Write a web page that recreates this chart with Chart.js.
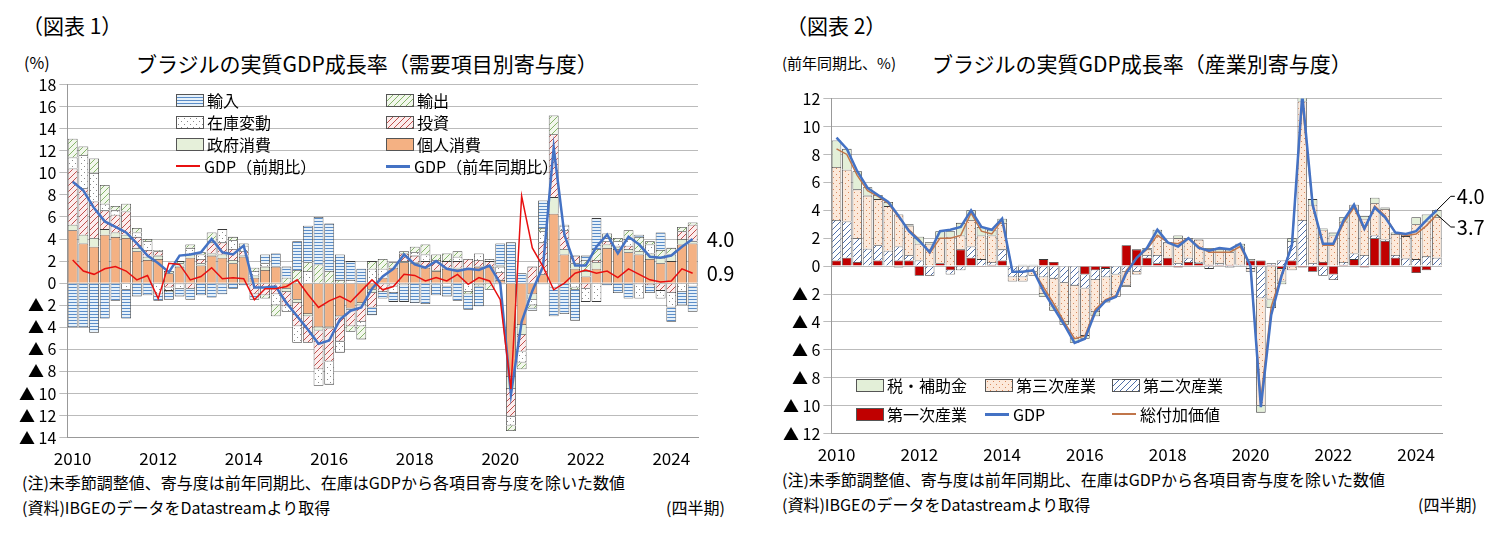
<!DOCTYPE html>
<html><head><meta charset="utf-8">
<script src="https://cdn.jsdelivr.net/npm/chart.js@4.4.1/dist/chart.umd.min.js"></script>
<style>
body{margin:0;width:1502px;height:552px;background:#fff;font-family:"Noto Sans CJK JP","Noto Sans",sans-serif;color:#000;position:relative;overflow:hidden}
.t{position:absolute;white-space:nowrap}
.lg{position:absolute;font-size:16px;white-space:nowrap;display:flex;align-items:center}
.sw{display:inline-block;width:26px;height:11px;border:1px solid #555;margin-right:3px}
.ln{display:inline-block;width:24px;height:0;margin-right:4px}
canvas{position:absolute}
</style></head><body>
<div class="t" style="left:22px;top:10px;font-size:21px">（図表 1）</div>
<div class="t" style="left:24px;top:50px;font-size:16px">(%)</div>
<div class="t" style="left:136px;top:48px;font-size:21px">ブラジルの実質GDP成長率（需要項目別寄与度）</div>
<div class="t" style="left:22px;top:470px;font-size:16px">(注)未季節調整値、寄与度は前年同期比、在庫はGDPから各項目寄与度を除いた数値</div>
<div class="t" style="left:22px;top:495px;font-size:16px">(資料)IBGEのデータをDatastreamより取得</div>
<div class="t" style="left:666px;top:495px;font-size:16px">(四半期)</div>

<div class="t" style="left:786px;top:10px;font-size:21px">（図表 2）</div>
<div class="t" style="left:782px;top:52px;font-size:15px">(前年同期比、%)</div>
<div class="t" style="left:932px;top:48px;font-size:21px">ブラジルの実質GDP成長率（産業別寄与度）</div>
<div class="t" style="left:782px;top:467px;font-size:16px">(注)未季節調整値、寄与度は前年同期比、在庫はGDPから各項目寄与度を除いた数値</div>
<div class="t" style="left:782px;top:492px;font-size:16px">(資料)IBGEのデータをDatastreamより取得</div>
<div class="t" style="left:1418px;top:492px;font-size:16px">(四半期)</div>

<canvas id="c1" style="left:8px;top:72px;width:745px;height:400px" width="745" height="400"></canvas>
<canvas id="c2" style="left:772px;top:86px;width:725px;height:382px" width="725" height="382"></canvas>

<div class="lg" style="left:176px;top:88px"><span class="sw" id="s_imp"></span>輸入</div>
<div class="lg" style="left:386px;top:88px"><span class="sw" id="s_exp"></span>輸出</div>
<div class="lg" style="left:176px;top:110px"><span class="sw" id="s_stk"></span>在庫変動</div>
<div class="lg" style="left:386px;top:110px"><span class="sw" id="s_inv"></span>投資</div>
<div class="lg" style="left:176px;top:132px"><span class="sw" style="background:#E6F0DA"></span>政府消費</div>
<div class="lg" style="left:386px;top:132px"><span class="sw" style="background:#F4B183"></span>個人消費</div>
<div class="lg" style="left:176px;top:154px"><span class="ln" style="border-top:2px solid #E81010"></span>GDP（前期比）</div>
<div class="lg" style="left:386px;top:154px"><span class="ln" style="border-top:3px solid #4472C4"></span>GDP（前年同期比）</div>

<div class="lg" style="left:856px;top:373px"><span class="sw" style="background:#E3EFD8"></span>税・補助金</div>
<div class="lg" style="left:985px;top:373px"><span class="sw" id="s_ter"></span>第三次産業</div>
<div class="lg" style="left:1112px;top:373px"><span class="sw" id="s_sec"></span>第二次産業</div>
<div class="lg" style="left:856px;top:402px"><span class="sw" style="background:#C00000"></span>第一次産業</div>
<div class="lg" style="left:985px;top:402px"><span class="ln" style="border-top:3px solid #4472C4"></span>GDP</div>
<div class="lg" style="left:1112px;top:402px"><span class="ln" style="border-top:2px solid #C0754A"></span>総付加価値</div>

<script>
// 2010Q1 - 2024Q3
const years = [2010,2011,2012,2013,2014,2015,2016,2017,2018,2019,2020,2021,2022,2023,2024];
const quarters = [];
years.forEach(y => [1,2,3,4].forEach(q => { if (!(y === 2024 && q === 4)) quarters.push(y + "Q" + q); }));

// 図表1 需要項目別寄与度
const cons = [4.8,3.6,3.3,4.4, 4.2,4.1,2.9,2.1, 2.2,0.9,1.5,2.3, 1.6,2.5,2.3,1.8, 2.4,0.5,1.2,1.5, -0.5,-1.5,-2.8,-4.0, -4.0,-3.0,-2.3,-1.8, -0.6,0.5,1.4,1.9, 1.8,1.4,1.1,1.3, 1.3,1.4,1.5,1.5, 0.3,-8.5,-3.8,-1.0, 0.8,6.3,2.6,1.3, 0.6,1.3,3.2,3.1, 2.8,2.6,2.2,1.8, 2.0,3.5,3.6];
const gov = [0.5,0.8,0.8,0.5, 0.4,0.3,0.3,0.3, 0.3,0.2,0.3,0.3, 0.2,0.2,0.3,0.3, 0.1,0.2,0.3,-0.1, -0.3,-0.3,-0.2,-0.3, -0.1,-0.1,-0.1,-0.2, -0.3,-0.1,-0.1,0.1, 0.1,0.0,0.1,0.1, 0.1,0.0,-0.2,0.0, -0.1,-1.1,-0.9,-0.5, -0.1,1.5,0.5,0.5, 0.5,0.6,0.3,0.2, 0.3,0.3,0.5,0.5, 0.6,0.5,0.2];
const inv = [5.1,4.2,3.3,1.7, 1.6,2.1,1.0,0.6, 0.4,-0.4,-0.1,-0.5, 0.4,1.0,1.1,1.0, 0.4,-1.0,-1.1,-0.9, -1.3,-2.1,-2.4,-3.5, -3.0,-2.2,-1.5,-1.5, -1.3,-0.7,-0.2,0.7, 0.6,0.6,0.9,0.6, 0.6,0.8,0.6,0.5, 0.7,-2.5,-1.5,1.5, 2.9,5.7,1.7,0.7, -0.5,0.2,0.3,0.1, 0.3,-0.1,-0.2,-0.7, -0.9,0.7,1.5];
const stock = [1.0,3.0,2.6,0.6, 0.4,-0.6,0.4,0.8, -1.0,-0.3,-0.4,0.6, 0.4,0.1,1.2,0.8, 0.5,0.4,0.3,-1.0, -0.5,-1.5,1.1,-1.5, -2.1,-1.0,0.3,-0.4, 1.3,0.8,-0.6,-0.2, 0.3,0.6,-0.1,-0.3, 0.4,-0.8,0.6,0.2, 0.5,-0.8,-1.0,-0.5, 1.0,-0.4,0.4,-0.4, -1.2,-1.7,0.3,0.4, 0.6,-1.3,0.8,-0.7, -1.3,-0.8,-0.3];
const exportC = [1.7,0.8,1.3,1.7, 0.4,0.7,0.4,0.2, 0.1,-0.1,0.2,0.3, 0.2,0.8,-0.1,0.3, 0.2,0.3,-0.3,-1.0, 0.5,1.2,0.8,1.7, 1.1,0.3,-0.5,-1.2, 0.7,0.9,0.5,0.2, 0.5,0.9,0.5,0.7, 0.5,-0.2,-0.1,-0.6, 0.1,-0.5,-0.6,-0.3, 0.3,1.7,0.1,-0.2, 1.0,1.0,0.4,0.3, 0.8,1.3,0.3,0.7, 0.6,0.4,0.2];
const importC = [-4.0,-4.0,-4.5,-3.2, -1.6,-2.6,-1.2,-1.1, -0.6,-0.7,-0.7,-1.0, -1.1,-1.3,-0.9,-0.5, -0.2,-0.5,0.8,1.2, 1.0,2.6,3.3,4.3, 4.3,2.3,1.7,1.3, -0.7,-0.6,-0.8,-1.5, -1.8,-1.9,-1.0,-0.9, -1.6,-1.4,-1.8,0.0, 2.0,3.7,0.9,-0.2, 2.5,-2.6,-2.8,-2.8, 0.4,2.8,-0.2,-0.9, -1.4,0.2,-0.7,1.6, -1.3,-1.2,-2.3];
const gdpQoq = [2.1,1.1,0.8,1.3, 1.5,1.1,0.3,0.7, -1.4,1.8,1.7,0.3, 0.6,1.4,0.4,0.5, 0.4,-1.5,-0.5,-0.5, -0.3,0.3,-1.0,-2.2, -1.6,-1.2,-1.7,-0.7, 0.3,-0.6,-0.3,0.8, 0.7,0.2,0.5,0.2, 0.8,-0.1,0.5,0.2, -1.5,-9.6,7.9,3.2, 1.5,-0.6,0.0,0.9, 1.2,0.9,1.1,0.5, 1.3,0.8,0.3,0.1, 0.2,1.3,0.9];
const gdpYoy = [9.2,8.4,6.8,5.6, 5.1,4.6,3.6,2.5, 1.8,1.0,2.5,2.6, 2.8,4.0,2.8,2.6, 3.4,-0.4,-0.4,-0.3, -1.8,-3.0,-4.2,-5.5, -5.2,-3.3,-2.5,-2.2, -0.5,0.6,1.3,2.6, 1.7,1.4,2.0,1.3, 1.1,1.3,1.2,1.6, 0.0,-10.1,-3.5,-0.7, 1.5,12.3,4.4,1.6, 1.6,3.3,4.4,2.7, 4.2,3.5,2.4,2.3, 2.5,3.3,4.0];

// 図表2 産業別寄与度
const primary = [0.4,0.6,0.3,0.05, 0.4,0.0,0.4,0.4, -0.7,0.0,0.2,-0.3, 1.2,0.6,-0.05,0.1, 0.4,0.0,0.0,0.0, 0.5,0.3,0.0,0.0, -0.6,-0.3,-0.2,0.0, 1.5,1.2,0.6,0.2, 0.6,-0.1,0.3,0.2, 0.1,0.1,0.1,0.0, 0.4,0.4,0.1,-0.2, 0.4,-0.1,-0.4,0.3, -0.6,0.1,0.5,-0.1, 2.0,1.8,0.6,0.05, -0.5,-0.3,0.0];
const secondary = [2.9,2.6,1.7,1.2, 1.1,1.1,1.0,0.4, 0.4,-0.7,0.0,-0.3, -0.3,0.8,0.5,0.2, 0.8,-0.8,-0.8,-0.4, -0.8,-0.9,-1.2,-1.4, -1.0,-0.7,-0.6,-0.6, -0.4,-0.4,0.2,0.6, 0.0,0.2,0.3,0.1, -0.2,0.1,-0.1,0.1, -0.2,-2.3,0.1,0.4, 1.4,3.3,0.2,-0.7, -0.4,0.2,0.4,0.8, 0.2,0.1,0.2,0.5, 0.5,0.7,0.6];
const tertiary = [3.8,3.7,3.5,3.8, 3.3,3.2,2.3,2.1, 1.2,1.6,1.8,2.1, 1.0,1.9,1.7,1.9, 1.9,-0.3,-0.3,-0.3, -1.2,-2.0,-2.8,-3.8, -3.4,-2.3,-1.8,-1.6, -1.0,-0.2,0.4,1.4, 1.1,1.8,1.4,1.6, 1.1,0.8,0.9,1.3, -0.2,-7.7,-2.4,-0.9, -0.3,8.5,4.2,2.3, 2.2,2.9,3.5,2.6, 2.3,2.2,1.5,1.6, 2.5,2.5,2.9];
const tax = [1.9,1.5,1.3,0.6, 0.3,0.3,-0.1,0.1, 0.5,0.1,0.5,0.4, 0.9,0.7,0.6,0.4, 0.3,0.0,0.1,0.1, -0.2,-0.3,-0.2,-0.3, -0.2,-0.3,0.0,0.0, -0.1,0.0,0.1,0.4, 0.0,0.2,0.0,0.0, 0.1,0.2,0.2,0.2, 0.1,-0.5,-0.6,-0.2, 0.2,0.6,0.4,0.1, 0.2,0.3,0.0,0.2, 0.4,0.1,0.1,0.1, 0.5,0.5,0.5];
const gva = [8.4,8.0,6.5,5.4, 5.0,4.5,3.5,2.6, 1.9,0.9,2.0,2.0, 2.2,3.8,2.5,2.3, 3.3,-0.4,-0.4,-0.3, -1.5,-2.7,-4.0,-5.2, -5.0,-3.1,-2.4,-2.1, -0.3,0.6,1.2,2.2, 1.7,1.6,2.0,1.4, 1.0,1.0,1.0,1.4, 0.0,-9.6,-2.9,-0.6, 1.5,11.8,4.3,1.5, 1.5,3.1,4.2,2.6, 4.3,3.6,2.4,2.2, 2.3,2.9,3.7];

function pat(bg, fg, type) {
  const c = document.createElement("canvas");
  c.width = 6; c.height = 6;
  const x = c.getContext("2d");
  x.fillStyle = bg; x.fillRect(0, 0, 6, 6);
  x.strokeStyle = fg; x.fillStyle = fg; x.lineWidth = 1;
  if (type === "h") { x.fillRect(0, 2, 6, 1); x.fillRect(0, 5, 6, 1); }
  if (type === "d") { x.beginPath(); x.moveTo(-1, 7); x.lineTo(7, -1); x.moveTo(-1, 1); x.lineTo(1, -1); x.moveTo(5, 7); x.lineTo(7, 5); x.stroke(); }
  if (type === "p") { x.fillRect(1, 1, 1, 1); x.fillRect(4, 4, 1, 1); }
  return x.createPattern(c, "repeat");
}
function swatch(id, p) {
  const el = document.getElementById(id);
  const c = document.createElement("canvas"); c.width = 6; c.height = 6;
  const x = c.getContext("2d"); x.fillStyle = p; x.fillRect(0,0,6,6);
  el.style.background = "url(" + c.toDataURL() + ")";
}
const pImp = pat("#E6F1FA", "#5B8DC8", "h");
const pExp = pat("#F2F7EC", "#86B56A", "d");
const pStk = pat("#FFFFFF", "#8A8A8A", "p");
const pInv = pat("#FCEDED", "#C0504D", "d");
const pTer = pat("#FCE9DA", "#D98A5E", "p");
const pSec = pat("#FFFFFF", "#4F6FA8", "d");
[["s_imp",pImp],["s_exp",pExp],["s_stk",pStk],["s_inv",pInv],["s_ter",pTer],["s_sec",pSec]].forEach(a => swatch(a[0], a[1]));

const tickFont = { family: "'Noto Sans CJK JP', sans-serif", size: 17 };
const fmtY = v => v < 0 ? "▲ " + (-v) : String(v);
const xTick = function (v, i) { const q = quarters[i]; const y = +q.slice(0, 4); return q.endsWith("Q1") && y % 2 === 0 ? String(y) : ""; };

function bar(label, data, bg) {
  return { type: "bar", label, data, backgroundColor: bg, borderColor: "#3a3a3a", borderWidth: 0.8, stack: "s", order: 2, barPercentage: 1, categoryPercentage: 0.92 };
}
function line(label, data, color, w) {
  return { type: "line", label, data, borderColor: color, borderWidth: w, pointRadius: 0, tension: 0, order: 0, stack: label };
}

const endLabels = {
  id: "endLabels",
  afterDatasetsDraw(chart, args, opts) {
    const ctx = chart.ctx;
    const xs = chart.scales.x, ys = chart.scales.y;
    ctx.save();
    ctx.font = "20px 'Noto Sans CJK JP', sans-serif";
    ctx.fillStyle = "#000"; ctx.textBaseline = "middle";
    opts.items.forEach(it => {
      const px = xs.getPixelForValue(quarters.length - 1);
      const py = ys.getPixelForValue(it.v);
      const ly = ys.getPixelForValue(it.at);
      if (it.leader) {
        ctx.strokeStyle = "#000"; ctx.lineWidth = 1;
        ctx.beginPath(); ctx.moveTo(px, py); ctx.lineTo(px + 14, ly); ctx.lineTo(px + 18, ly); ctx.stroke();
      }
      ctx.fillText(it.text, px + it.dx, ly);
    });
    ctx.restore();
  }
};

function opts(min, max, items, padRight) {
  return {
    responsive: false, animation: false,
    layout: { padding: { left: 8, right: padRight, top: 8, bottom: 0 } },
    plugins: { legend: { display: false }, tooltip: { enabled: false }, endLabels: { items } },
    scales: {
      x: { stacked: true, grid: { display: false }, border: { color: "#999" },
           ticks: { autoSkip: false, maxRotation: 0, font: tickFont, color: "#000", callback: xTick } },
      y: { stacked: true, min, max, grid: { color: "#bbb", borderDash: [2, 2] }, border: { color: "#999" },
           ticks: { stepSize: 2, autoSkip: false, font: { family: tickFont.family, size: 16 }, color: "#000", callback: fmtY } }
    }
  };
}

new Chart(document.getElementById("c1"), {
  data: {
    labels: quarters,
    datasets: [
      bar("個人消費", cons, "#F4B183"),
      bar("政府消費", gov, "#E6F0DA"),
      bar("投資", inv, pInv),
      bar("在庫変動", stock, pStk),
      bar("輸出", exportC, pExp),
      bar("輸入", importC, pImp),
      line("GDP（前期比）", gdpQoq, "#E81010", 1.5),
      line("GDP（前年同期比）", gdpYoy, "#4472C4", 2.5)
    ]
  },
  options: opts(-14, 18, [{ v: 4.0, at: 4.0, text: "4.0", dx: 14 }, { v: 0.9, at: 0.9, text: "0.9", dx: 14 }], 55),
  plugins: [endLabels]
});

new Chart(document.getElementById("c2"), {
  data: {
    labels: quarters,
    datasets: [
      bar("第一次産業", primary, "#C00000"),
      bar("第二次産業", secondary, pSec),
      bar("第三次産業", tertiary, pTer),
      bar("税・補助金", tax, "#E3EFD8"),
      line("GDP", gdpYoy, "#4472C4", 2.5),
      line("総付加価値", gva, "#C0754A", 1.5)
    ]
  },
  options: opts(-12, 12, [{ v: 4.0, at: 5.0, text: "4.0", dx: 20, leader: true }, { v: 3.7, at: 2.8, text: "3.7", dx: 20, leader: true }], 55),
  plugins: [endLabels]
});
</script>
</body></html>
